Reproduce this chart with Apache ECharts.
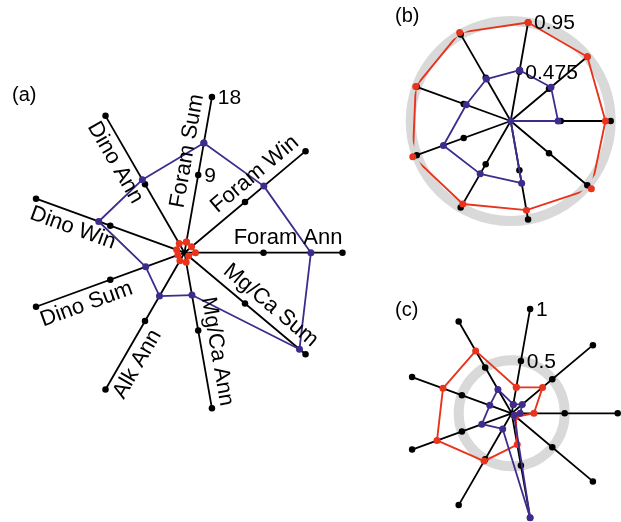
<!DOCTYPE html>
<html><head><meta charset="utf-8">
<script src="https://cdn.jsdelivr.net/npm/echarts@6/dist/echarts.min.js"></script>
<style>html,body{margin:0;padding:0;background:#fff}#chart{width:621px;height:522px}</style>
</head><body><div id="chart"></div>
<script>
// Spokes, counter-clockwise starting from the "Foram Sum" spoke
const categories = ['Foram Sum','Dino Ann','Dino Win','Dino Sum','Alk Ann','Mg/Ca Ann','Mg/Ca Sum','Foram Ann','Foram Win'];
const spokeAngles = [0, 40, 80, 120, 160, 200, 240, 280, 320];
const panelLabels = ['(a)', '(b)', '(c)'];

const ticksA = [0, 9, 18];
const ticksB = [0, 0.475, 0.95];
const ticksC = [0, 0.5, 1];

const purpleA = [12.7, 9.6, 10.4, 4.7, 5.7, 4.9, 17.1, 14.4, 11.8];
const redA    = [1.25, 1.2, 0.95, 0.8, 1.05, 1.1, 0.6, 1.25, 1.05];

const purpleB = [0.49, 0.46, 0.45, 0.68, 0.58, 0.60, 0.0, 0.45, 0.50];
const redB    = [0.95, 0.97, 0.96, 0.99, 0.91, 0.86, 1.00, 0.90, 0.95];

const purpleC = [0.085, 0.26, 0.22, 0.30, 0.17, 1.0, 0.03, 0.08, 0.13];
const redC    = [0.25, 0.68, 0.69, 0.75, 0.52, 0.30, 0.05, 0.21, 0.38];

const ringB = 0.95;
const ringC = 0.5;

const FONT = '"Liberation Sans", Arial, Helvetica, sans-serif';
const PURPLE = '#3f2b8c';
const RED = '#e8341c';

const panels = [
  {center: [184.5, 252.7], radius: 158, ticks: ticksA, purple: purpleA, red: redA, ring: null, names: true, label: [12, 85]},
  {center: [510.7, 121], radius: 100, ticks: ticksB, purple: purpleB, red: redB, ring: ringB, names: false, label: [395, 6]},
  {center: [511.7, 413.3], radius: 106, ticks: ticksC, purple: purpleC, red: redC, ring: ringC, names: false, label: [395, 300]}
];

const polar = [], angleAxis = [], radiusAxis = [], series = [], title = [];

panels.forEach((p, i) => {
  polar.push({center: p.center, radius: p.radius});
  angleAxis.push({
    polarIndex: i, type: 'value', min: 0, max: 360, interval: 40,
    startAngle: 80, clockwise: false,
    axisLine: {show: false}, axisTick: {show: false}, axisLabel: {show: false},
    splitLine: {show: true, lineStyle: {color: '#000', width: 1.8}}
  });
  radiusAxis.push({
    polarIndex: i, type: 'value', min: p.ticks[0], max: p.ticks[2], interval: p.ticks[1],
    axisLine: {show: false}, axisTick: {show: false}, splitLine: {show: false},
    axisLabel: {
      show: true, margin: -6, align: 'left', verticalAlign: 'middle',
      fontSize: 21, color: '#000', fontFamily: FONT,
      formatter: v => (v === 0 ? '' : String(v))
    },
    z: 5
  });
  title.push({
    text: panelLabels[i], left: p.label[0], top: p.label[1], padding: 0,
    textStyle: {fontSize: 20, fontWeight: 'normal', color: '#000', fontFamily: FONT}
  });

  if (p.ring !== null) {
    series.push({
      type: 'custom', coordinateSystem: 'polar', polarIndex: i, z: -1, silent: true,
      data: [[p.ring, 0]],
      renderItem: (params, api) => {
        const c = api.coord([0, 0]);
        const e = api.coord([api.value(0), 0]);
        const r = Math.hypot(e[0] - c[0], e[1] - c[1]);
        return {type: 'circle', shape: {cx: c[0], cy: c[1], r: r},
          style: {fill: 'none', stroke: '#d9d9d9', lineWidth: 10}};
      }
    });
  }

  const dots = [];
  spokeAngles.forEach(a => p.ticks.slice(1).forEach(t => dots.push([t, a])));
  series.push({
    type: 'scatter', coordinateSystem: 'polar', polarIndex: i, z: 2,
    symbol: 'circle', symbolSize: 6.5, itemStyle: {color: '#000', opacity: 1}, data: dots
  });

  const mk = (vals) => {
    const d = vals.map((v, k) => [v, spokeAngles[k]]);
    d.push([vals[0], spokeAngles[0]]);
    return d;
  };
  series.push({
    type: 'line', coordinateSystem: 'polar', polarIndex: i, z: 3, clip: false,
    symbol: 'circle', symbolSize: 7, showSymbol: true,
    lineStyle: {color: RED, width: 1.9}, itemStyle: {color: RED},
    data: mk(p.red)
  });
  series.push({
    type: 'line', coordinateSystem: 'polar', polarIndex: i, z: 4, clip: false,
    symbol: 'circle', symbolSize: 7, showSymbol: true,
    lineStyle: {color: PURPLE, width: 1.8}, itemStyle: {color: PURPLE},
    data: mk(p.purple)
  });

  if (p.names) {
    series.push({
      type: 'custom', coordinateSystem: 'polar', polarIndex: i, z: 5, silent: true,
      data: spokeAngles.map((a, k) => ({value: [p.ticks[2], a], name: categories[k]})),
      renderItem: (params, api) => {
        const c = api.coord([0, api.value(1)]);
        const e = api.coord([api.value(0), api.value(1)]);
        const th = Math.atan2(-(e[1] - c[1]), e[0] - c[0]);
        const nx = -Math.sin(th), ny = -Math.cos(th);
        const off = 15;
        const outward = Math.cos(th) > -1e-6;
        const rot = outward ? th : th - Math.PI;
        return {
          type: 'text', x: e[0] + nx * off, y: e[1] + ny * off, rotation: rot,
          style: {
            text: categories[params.dataIndex], x: 0, y: 0,
            align: outward ? 'right' : 'left', verticalAlign: 'middle',
            fontSize: 22, fontFamily: FONT, fill: '#000'
          }
        };
      }
    });
  }
});

const chart = echarts.init(document.getElementById('chart'), null, {renderer: 'canvas'});
chart.setOption({
  animation: false,
  backgroundColor: '#fff',
  title: title,
  polar: polar,
  angleAxis: angleAxis,
  radiusAxis: radiusAxis,
  series: series
});
</script>
</body></html>
